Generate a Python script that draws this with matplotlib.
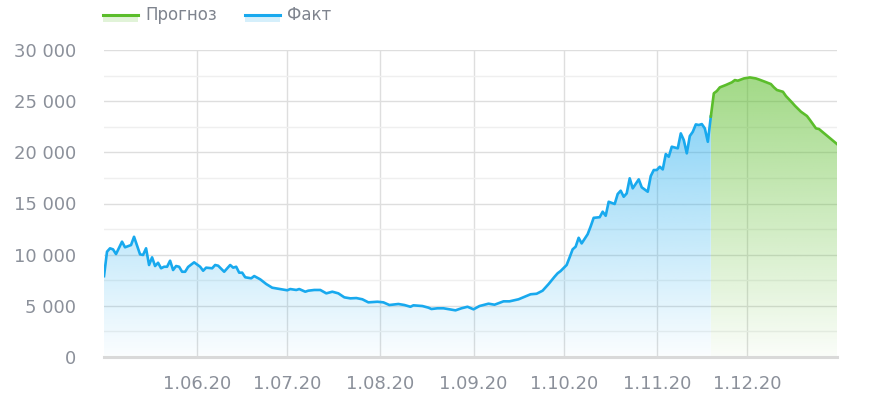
import numpy as np
import pandas as pd
import matplotlib
matplotlib.use('Agg')
import matplotlib.pyplot as plt
import matplotlib.dates as mdates
from matplotlib.colors import to_rgb
from matplotlib.lines import Line2D
from matplotlib.patches import Rectangle, PathPatch

# daily cases
fact_dates = [
    '2020-05-01', '2020-05-02', '2020-05-03', '2020-05-04', '2020-05-05', '2020-05-07',
    '2020-05-08', '2020-05-10', '2020-05-11', '2020-05-13', '2020-05-14', '2020-05-15',
    '2020-05-16', '2020-05-17', '2020-05-18', '2020-05-19', '2020-05-20', '2020-05-21',
    '2020-05-22', '2020-05-23', '2020-05-24', '2020-05-25', '2020-05-26', '2020-05-27',
    '2020-05-28', '2020-05-29', '2020-05-31', '2020-06-02', '2020-06-03', '2020-06-04',
    '2020-06-06', '2020-06-07', '2020-06-08', '2020-06-10', '2020-06-12', '2020-06-13',
    '2020-06-14', '2020-06-15', '2020-06-16', '2020-06-17', '2020-06-19', '2020-06-20',
    '2020-06-22', '2020-06-24', '2020-06-26', '2020-06-28', '2020-07-01', '2020-07-02',
    '2020-07-04', '2020-07-05', '2020-07-07', '2020-07-08', '2020-07-10', '2020-07-12',
    '2020-07-14', '2020-07-16', '2020-07-18', '2020-07-20', '2020-07-22', '2020-07-24',
    '2020-07-26', '2020-07-28', '2020-07-31', '2020-08-02', '2020-08-04', '2020-08-07',
    '2020-08-09', '2020-08-11', '2020-08-12', '2020-08-15', '2020-08-17', '2020-08-18',
    '2020-08-20', '2020-08-22', '2020-08-24', '2020-08-26', '2020-08-28', '2020-08-30',
    '2020-09-01', '2020-09-03', '2020-09-06', '2020-09-08', '2020-09-11', '2020-09-13',
    '2020-09-16', '2020-09-18', '2020-09-20', '2020-09-22', '2020-09-24', '2020-09-26',
    '2020-09-28', '2020-09-29', '2020-09-30', '2020-10-02', '2020-10-03', '2020-10-04',
    '2020-10-05', '2020-10-06', '2020-10-07', '2020-10-09', '2020-10-10', '2020-10-11',
    '2020-10-13', '2020-10-14', '2020-10-15', '2020-10-16', '2020-10-18', '2020-10-19',
    '2020-10-20', '2020-10-21', '2020-10-22', '2020-10-23', '2020-10-24', '2020-10-26',
    '2020-10-27', '2020-10-29', '2020-10-30', '2020-10-31', '2020-11-01', '2020-11-02',
    '2020-11-03', '2020-11-04', '2020-11-05', '2020-11-06', '2020-11-08', '2020-11-09',
    '2020-11-10', '2020-11-11', '2020-11-12', '2020-11-13', '2020-11-14', '2020-11-15',
    '2020-11-16', '2020-11-17', '2020-11-18', '2020-11-19',
]
fact_values = [
    7900, 10290, 10620, 10520, 10060, 11270,
    10720, 10940, 11750, 10030, 9970, 10620,
    8990, 9740, 8890, 9210, 8670, 8820,
    8820, 9410, 8500, 8890, 8820, 8330,
    8330, 8800, 9250, 8820, 8430, 8730,
    8670, 8990, 8920, 8330, 8990, 8730,
    8820, 8240, 8240, 7790, 7690, 7910,
    7590, 7130, 6770, 6670, 6520, 6640,
    6550, 6640, 6380, 6480, 6550, 6550,
    6220, 6380, 6220, 5830, 5730, 5760,
    5640, 5340, 5400, 5340, 5080, 5180,
    5080, 4910, 5050, 4980, 4820, 4690,
    4760, 4760, 4660, 4560, 4760, 4910,
    4660, 4980, 5210, 5110, 5440, 5440,
    5640, 5890, 6130, 6180, 6480, 7130,
    7850, 8180, 8400, 8990, 9740, 10520,
    10780, 11650, 11100, 12000, 12760, 13600,
    13660, 14200, 13800, 15170, 14950, 15930,
    16250, 15660, 15990, 17460, 16480, 17360,
    16580, 16150, 17680, 18270, 18270, 18590,
    18330, 19830, 19570, 20550, 20390, 21850,
    21200, 19900, 21590, 22010, 22730, 22670,
    22760, 22340, 21030, 23500,
]

forecast_dates = [
    '2020-11-19', '2020-11-20', '2020-11-21', '2020-11-22', '2020-11-24', '2020-11-26',
    '2020-11-27', '2020-11-28', '2020-11-30', '2020-12-02', '2020-12-04', '2020-12-05',
    '2020-12-07', '2020-12-09', '2020-12-10', '2020-12-11', '2020-12-13', '2020-12-14',
    '2020-12-16', '2020-12-17', '2020-12-19', '2020-12-21', '2020-12-22', '2020-12-24',
    '2020-12-25', '2020-12-27', '2020-12-29', '2020-12-31',
]
forecast_values = [
    23500, 25770, 25990, 26350, 26580, 26840,
    27060, 27000, 27220, 27320, 27220, 27120,
    26900, 26670, 26350, 26090, 25920, 25500,
    24880, 24550, 23970, 23550, 23160, 22340,
    22280, 21790, 21300, 20810,
]

tick_dates = ['2020-06-01', '2020-07-01', '2020-08-01', '2020-09-01',
              '2020-10-01', '2020-11-01', '2020-12-01']
tick_labels = ['1.06.20', '1.07.20', '1.08.20', '1.09.20', '1.10.20', '1.11.20', '1.12.20']
y_ticks = [0, 5000, 10000, 15000, 20000, 25000, 30000]
y_labels = ['0', '5 000', '10 000', '15 000', '20 000', '25 000', '30 000']

blue = '#18a9ee'
green = '#5bbd2b'
text_grey = '#8b909a'

fx = mdates.date2num(pd.to_datetime(fact_dates))
gx = mdates.date2num(pd.to_datetime(forecast_dates))
xmin = mdates.date2num(pd.Timestamp('2020-05-01'))
xmax = mdates.date2num(pd.Timestamp('2020-12-31'))
ymax = 30000

fig = plt.figure(figsize=(8.73, 4.18), dpi=100)
ax = fig.add_axes([104/873, 1-357/418, (837-104)/873, (357-50)/418])


def gradient_fill(x, y, color, a_top, a_bot):
    poly = ax.fill_between(x, y, 0, facecolor='none', edgecolor='none')
    clip = PathPatch(poly.get_paths()[0], transform=ax.transData,
                     facecolor='none', edgecolor='none')
    ax.add_patch(clip)
    rgba = np.zeros((200, 1, 4))
    rgba[..., :3] = to_rgb(color)
    rgba[..., 3] = np.linspace(a_bot, a_top, 200)[:, None]
    im = ax.imshow(rgba, extent=[x[0], x[-1], 0, ymax], origin='lower',
                   aspect='auto', zorder=1, interpolation='bilinear')
    im.set_clip_path(clip)


gradient_fill(fx, fact_values, blue, 0.62, 0.02)
gradient_fill(gx, forecast_values, green, 0.62, 0.03)

ax.plot(fx, fact_values, color=blue, lw=1.9, zorder=3, solid_joinstyle='round')
ax.plot(gx, forecast_values, color=green, lw=1.9, zorder=3, solid_joinstyle='round')

ax.set_xlim(xmin, xmax)
ax.set_ylim(0, ymax)

ax.set_yticks(y_ticks)
ax.set_yticklabels(y_labels)
ax.set_yticks(np.arange(2500, 30000, 5000), minor=True)
ax.set_xticks(mdates.date2num(pd.to_datetime(tick_dates)))
ax.set_xticklabels(tick_labels)

ax.tick_params(axis='both', which='both', length=0, labelsize=13, labelcolor=text_grey)
ax.tick_params(axis='y', pad=20)
ax.tick_params(axis='x', pad=13)

ax.grid(True, which='major', color='#dedede', lw=1.0, zorder=0)
ax.grid(True, which='minor', axis='y', color='#efefef', lw=1.0, zorder=0)
ax.set_axisbelow(True)

for s in ['top', 'right', 'left']:
    ax.spines[s].set_visible(False)
ax.spines['bottom'].set_color('#d9d9d9')
ax.spines['bottom'].set_linewidth(2.2)

# legend drawn by hand
ly = 1 - 15/418
for x0, col, label in [(103, green, 'Прогноз'), (245, blue, 'Факт')]:
    fig.add_artist(Rectangle((x0/873, ly - 7/418), 35/873, 7/418,
                             transform=fig.transFigure, color=col, alpha=0.18, lw=0))
    fig.add_artist(Line2D([x0/873, (x0+35)/873], [ly, ly], transform=fig.transFigure,
                          color=col, lw=2.2))
    fig.text((x0+42)/873, ly, label, fontsize=12, color='#7f848e', va='center', ha='left')

fig.savefig('out.png', dpi=100)
